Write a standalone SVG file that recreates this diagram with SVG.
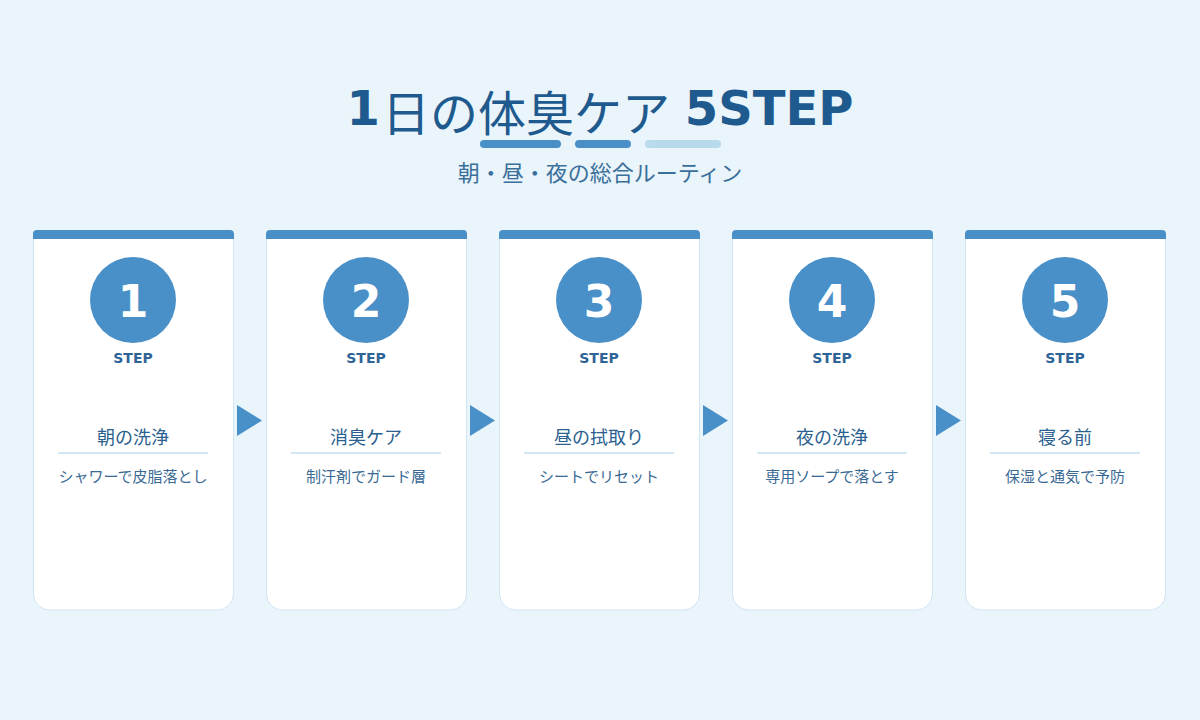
<svg xmlns="http://www.w3.org/2000/svg" width="1200" height="720" viewBox="0 0 1200 720">
<style>
.jp{font-family:"Noto Sans CJK JP","DejaVu Sans",sans-serif}
.lat{font-family:"DejaVu Sans","Noto Sans CJK JP",sans-serif;font-weight:bold}
.card{fill:#ffffff;stroke:#d2e5f3;stroke-width:1}
.bar{fill:#4a90c8}
.circ{fill:#4a90c8}
.num{font-family:"DejaVu Sans",sans-serif;font-weight:bold;font-size:44px;fill:#ffffff;text-anchor:middle}
.step{font-family:"DejaVu Sans",sans-serif;font-weight:bold;font-size:14px;fill:#2e6496;text-anchor:middle}
.ttl{font-family:"Noto Sans CJK JP",sans-serif;font-size:18px;fill:#2a5f8f;text-anchor:middle}
.desc{font-family:"Noto Sans CJK JP",sans-serif;font-size:15px;fill:#3a6a94;text-anchor:middle}
.sep{stroke:#d3e7f4;stroke-width:2}
.arr{fill:#4a90c8}
</style>
<rect width="1200" height="720" fill="#e9f4fb"/>
<g id="header">
<text x="600" y="125" text-anchor="middle" font-size="48" fill="#1f5a8e" class="jp"><tspan class="lat">1</tspan><tspan dx="2" dy="6">日の体臭ケア </tspan><tspan class="lat" dx="4" dy="-6">5STEP</tspan></text>
<rect x="480" y="140" width="81" height="8" rx="4" fill="#4a90c8"/>
<rect x="575" y="140" width="56" height="8" rx="4" fill="#4a90c8"/>
<rect x="645" y="140" width="76" height="8" rx="4" fill="#b9d9ec"/>
<text x="600" y="181" text-anchor="middle" font-size="22" fill="#3a6f9a" class="jp">朝・昼・夜の総合ルーティン</text>
</g>
<g id="connectors">
<polygon class="arr" points="237,405 262,420.5 237,436"/>
<polygon class="arr" points="470,405 495,420.5 470,436"/>
<polygon class="arr" points="703,405 728,420.5 703,436"/>
<polygon class="arr" points="936,405 961,420.5 936,436"/>
</g>
<g id="step1">
<path class="card" d="M33.5,234 H233.5 V594 a16,16 0 0 1 -16,16 H49.5 a16,16 0 0 1 -16,-16 Z"/>
<path class="bar" d="M33,239 V234 a4,4 0 0 1 4,-4 H230 a4,4 0 0 1 4,4 V239 Z"/>
<circle class="circ" cx="133" cy="300" r="43"/>
<text class="num" x="133" y="317">1</text>
<text class="step" x="133" y="363">STEP</text>
<text class="ttl" x="133" y="444">朝の洗浄</text>
<line class="sep" x1="58" y1="453" x2="208" y2="453"/>
<text class="desc" x="133" y="482">シャワーで皮脂落とし</text>
</g>
<g id="step2">
<path class="card" d="M266.5,234 H466.5 V594 a16,16 0 0 1 -16,16 H282.5 a16,16 0 0 1 -16,-16 Z"/>
<path class="bar" d="M266,239 V234 a4,4 0 0 1 4,-4 H463 a4,4 0 0 1 4,4 V239 Z"/>
<circle class="circ" cx="366" cy="300" r="43"/>
<text class="num" x="366" y="317">2</text>
<text class="step" x="366" y="363">STEP</text>
<text class="ttl" x="366" y="444">消臭ケア</text>
<line class="sep" x1="291" y1="453" x2="441" y2="453"/>
<text class="desc" x="366" y="482">制汗剤でガード層</text>
</g>
<g id="step3">
<path class="card" d="M499.5,234 H699.5 V594 a16,16 0 0 1 -16,16 H515.5 a16,16 0 0 1 -16,-16 Z"/>
<path class="bar" d="M499,239 V234 a4,4 0 0 1 4,-4 H696 a4,4 0 0 1 4,4 V239 Z"/>
<circle class="circ" cx="599" cy="300" r="43"/>
<text class="num" x="599" y="317">3</text>
<text class="step" x="599" y="363">STEP</text>
<text class="ttl" x="599" y="444">昼の拭取り</text>
<line class="sep" x1="524" y1="453" x2="674" y2="453"/>
<text class="desc" x="599" y="482">シートでリセット</text>
</g>
<g id="step4">
<path class="card" d="M732.5,234 H932.5 V594 a16,16 0 0 1 -16,16 H748.5 a16,16 0 0 1 -16,-16 Z"/>
<path class="bar" d="M732,239 V234 a4,4 0 0 1 4,-4 H929 a4,4 0 0 1 4,4 V239 Z"/>
<circle class="circ" cx="832" cy="300" r="43"/>
<text class="num" x="832" y="317">4</text>
<text class="step" x="832" y="363">STEP</text>
<text class="ttl" x="832" y="444">夜の洗浄</text>
<line class="sep" x1="757" y1="453" x2="907" y2="453"/>
<text class="desc" x="832" y="482">専用ソープで落とす</text>
</g>
<g id="step5">
<path class="card" d="M965.5,234 H1165.5 V594 a16,16 0 0 1 -16,16 H981.5 a16,16 0 0 1 -16,-16 Z"/>
<path class="bar" d="M965,239 V234 a4,4 0 0 1 4,-4 H1162 a4,4 0 0 1 4,4 V239 Z"/>
<circle class="circ" cx="1065" cy="300" r="43"/>
<text class="num" x="1065" y="317">5</text>
<text class="step" x="1065" y="363">STEP</text>
<text class="ttl" x="1065" y="444">寝る前</text>
<line class="sep" x1="990" y1="453" x2="1140" y2="453"/>
<text class="desc" x="1065" y="482">保湿と通気で予防</text>
</g>
</svg>
